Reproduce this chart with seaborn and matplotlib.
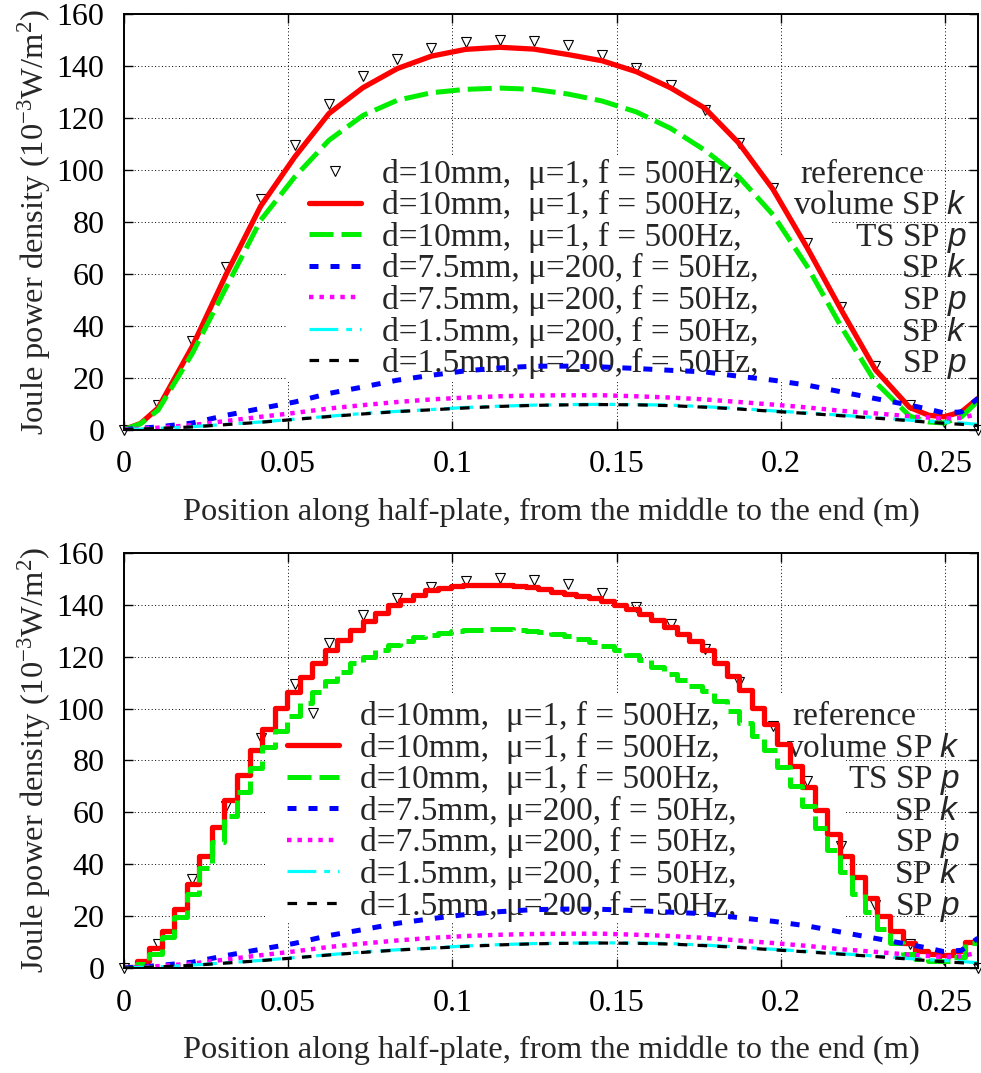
import matplotlib
matplotlib.use("Agg")
import matplotlib.pyplot as plt
from matplotlib.patches import Rectangle
import numpy as np
import seaborn as sns

sns.set_theme(style="ticks")
plt.rcParams["font.family"] = ["Liberation Serif", "DejaVu Serif"]
plt.rcParams["mathtext.fontset"] = "custom"
plt.rcParams["mathtext.rm"] = "Liberation Serif"
plt.rcParams["mathtext.it"] = "Liberation Sans:italic"
plt.rcParams["mathtext.bf"] = "Liberation Serif:bold"

# -------------------------------------------------
# data
# -------------------------------------------------

x_ref = [0, 0.0104, 0.0208, 0.0312, 0.0416, 0.052, 0.0624, 0.0728, 0.0832,
         0.0936, 0.104, 0.1144, 0.1248, 0.1352, 0.1456, 0.156, 0.1664, 0.1768,
         0.1872, 0.1976, 0.208, 0.2184, 0.2288, 0.2392, 0.2496, 0.26]
y_ref = [0, 9.4, 34.1, 62.6, 88.7, 109.4, 125.2, 136.1, 142.6, 147.0, 149.2,
         150.2, 149.7, 147.9, 144.4, 139.3, 132.6, 123.0, 110.2, 93.2, 71.9,
         47.2, 24.4, 9.4, 3.0, 0]

x_pos = [0, 0.005, 0.0104, 0.0208, 0.0312, 0.0416, 0.052, 0.0624, 0.0728,
         0.0832, 0.0936, 0.104, 0.1144, 0.1248, 0.1352, 0.1456, 0.156, 0.1664,
         0.1768, 0.1872, 0.1976, 0.208, 0.2184, 0.2288, 0.2392, 0.245, 0.2496,
         0.255, 0.26]

vol_k = [0, 2.3, 8.3, 32.0, 60.0, 86.0, 105.0, 121.7, 131.7, 139.0, 143.8,
         146.4, 147.2, 146.5, 144.4, 142.0, 137.8, 131.6, 123.8, 110.3, 92.5,
         70.0, 46.0, 23.0, 8.5, 5.5, 4.9, 6.8, 12.0]
ts_p = [0, 2.2, 7.5, 29.3, 55.0, 80.6, 97.3, 111.4, 121.0, 126.8, 129.7,
        131.0, 131.5, 131.0, 129.2, 126.5, 122.3, 116.0, 107.6, 97.3, 82.7,
        62.8, 39.5, 18.2, 5.2, 2.9, 2.5, 4.9, 11.0]
sp75_k = [0, 0.5, 1.0, 2.5, 5.5, 8.1, 10.6, 13.9, 16.4, 19.0, 20.9, 22.6,
          23.7, 24.4, 24.4, 24.1, 23.5, 22.8, 22.2, 20.5, 19.0, 17.1, 14.5,
          11.9, 9.4, 7.8, 6.4, 6.8, 12.0]
sp75_k_b = [0, 0.4, 0.9, 2.2, 4.8, 7.2, 9.5, 12.5, 14.8, 17.2, 19.0, 20.6,
            21.7, 22.5, 22.7, 22.6, 22.1, 21.5, 20.9, 19.4, 18.0, 16.2, 13.8,
            11.4, 9.0, 7.6, 6.3, 6.8, 11.5]
sp75_p = [0, 0.3, 0.7, 1.7, 3.3, 4.9, 6.4, 8.1, 9.4, 10.6, 11.6, 12.3, 12.8,
          13.1, 13.2, 13.2, 12.8, 12.3, 11.6, 10.6, 9.6, 8.5, 7.2, 6.2, 5.1,
          4.6, 4.2, 4.5, 6.0]
sp15_k = [0, 0.2, 0.4, 1.1, 2.0, 2.9, 4.0, 5.1, 6.2, 7.0, 7.7, 8.5, 9.0, 9.4,
          9.6, 9.7, 9.6, 9.4, 8.8, 8.1, 7.2, 6.4, 5.5, 4.6, 3.6, 3.2, 2.9,
          2.5, 2.0]
sp15_p = [0, 0.2, 0.4, 1.0, 1.9, 2.8, 3.9, 5.0, 6.0, 6.9, 7.6, 8.3, 8.9, 9.3,
          9.5, 9.6, 9.5, 9.2, 8.6, 7.9, 7.0, 6.2, 5.3, 4.4, 3.4, 2.8, 2.4,
          2.0, 1.5]

# second plot: element-wise constant values on 68 elements
n_elem = 68
vol_k_elem = [0.5, 2.6, 7.7, 14.4, 22.7, 32.4, 43.3, 54.3, 64.6, 74.2, 83.9,
              92.0, 100.1, 106.5, 112.3, 117.7, 122.6, 126.5, 130.4, 133.6,
              136.9, 140.0, 142.0, 143.9, 145.6, 146.5, 147.2, 147.6, 147.7,
              147.7, 147.6, 147.3, 146.8, 146.0, 145.1, 144.2, 143.4, 142.6,
              141.6, 140.0, 138.3, 136.3, 134.1, 131.6, 128.8, 126.0, 122.6,
              117.6, 112.6, 107.0, 100.4, 94.0, 86.4, 78.0, 69.7, 60.9, 51.6,
              43.3, 35.0, 26.9, 20.0, 14.2, 9.5, 6.6, 5.2, 4.9, 6.4, 10.0]
ts_p_elem = [0.3, 1.5, 5.5, 12.0, 19.5, 28.5, 38.5, 48.5, 58.5, 68.0, 77.0,
             85.0, 91.5, 97.0, 102.0, 106.5, 110.5, 114.0, 117.5, 120.0,
             122.5, 124.5, 126.0, 127.5, 128.5, 129.2, 129.8, 130.2, 130.4,
             130.5, 130.5, 130.3, 130.0, 129.4, 128.7, 127.8, 126.8, 125.6,
             124.2, 122.6, 120.8, 118.6, 116.2, 113.5, 111.0, 108.8, 106.8,
             102.9, 99.0, 94.5, 89.3, 84.0, 77.5, 70.0, 62.6, 54.0, 45.5,
             37.0, 28.5, 21.5, 15.0, 9.5, 5.5, 3.5, 2.6, 2.5, 4.3, 9.5]

labels = ["d=10mm,  \u03bc=1, f = 500Hz,",
          "d=10mm,  \u03bc=1, f = 500Hz,",
          "d=10mm,  \u03bc=1, f = 500Hz,",
          "d=7.5mm, \u03bc=200, f = 50Hz,",
          "d=7.5mm, \u03bc=200, f = 50Hz,",
          "d=1.5mm, \u03bc=200, f = 50Hz,",
          "d=1.5mm, \u03bc=200, f = 50Hz,"]
methods = ["reference", "volume SP $k$", "TS SP $p$", "SP $k$", "SP $p$",
           "SP $k$", "SP $p$"]

xticks = [0, 0.05, 0.1, 0.15, 0.2, 0.25]
xtick_labels = ["0", "0.05", "0.1", "0.15", "0.2", "0.25"]
yticks = [0, 20, 40, 60, 80, 100, 120, 140, 160]

styles = {
    "red": dict(color="#ff0000", lw=3.8, linestyle="-"),
    "green": dict(color="#00ee00", lw=3.6, linestyle=(0, (4.8, 1.6))),
    "blue": dict(color="#0000ff", lw=3.6, linestyle=(0, (1.8, 2.4))),
    "magenta": dict(color="#ff00ff", lw=3.2, linestyle=(0, (1.0, 1.35))),
    "cyan": dict(color="#00ffff", lw=2.3, linestyle=(0, (9.0, 2.5, 1.8, 2.5, 1.8, 2.5))),
    "black": dict(color="#000000", lw=2.3, linestyle=(0, (3.0, 3.2))),
}

FS_TICK = 23
FS_LEG = 24
FS_LAB = 23.4


def draw_panel(ax, stepped, leg_x, leg_y, right_x, box):
    ax.set_xlim(0, 0.26)
    ax.set_ylim(0, 160)
    ax.set_axisbelow(True)
    ax.grid(True, color="black", linestyle=(0, (1, 2.5)), linewidth=0.7)

    # opaque key area
    for (x0, y0, w, h) in box:
        ax.add_patch(Rectangle((x0, y0), w, h, transform=ax.transAxes,
                               facecolor="white", edgecolor="none", zorder=1))

    sns.lineplot(x=x_ref, y=y_ref, ax=ax, marker="v", linestyle="",
                 markersize=7.5, markerfacecolor="none", markeredgecolor="black",
                 markeredgewidth=0.8, label=labels[0], clip_on=False, zorder=3)
    sns.lineplot(x=x_ref, y=y_ref, ax=ax, marker=".", linestyle="",
                 markersize=1.5, color="black", label="_nolegend_",
                 clip_on=False, zorder=3)

    if stepped:
        edges = np.linspace(0, 0.26, n_elem + 1)
        sns.lineplot(x=edges, y=vol_k_elem + vol_k_elem[-1:], ax=ax,
                     drawstyle="steps-post", label=labels[1], zorder=4,
                     **styles["red"])
        sns.lineplot(x=edges, y=ts_p_elem + ts_p_elem[-1:], ax=ax,
                     drawstyle="steps-post", label=labels[2], zorder=4,
                     **styles["green"])
        blue = sp75_k_b
    else:
        sns.lineplot(x=x_pos, y=vol_k, ax=ax, label=labels[1], zorder=4,
                     **styles["red"])
        sns.lineplot(x=x_pos, y=ts_p, ax=ax, label=labels[2], zorder=4,
                     **styles["green"])
        blue = sp75_k

    sns.lineplot(x=x_pos, y=blue, ax=ax, label=labels[3], zorder=4, **styles["blue"])
    sns.lineplot(x=x_pos, y=sp75_p, ax=ax, label=labels[4], zorder=4, **styles["magenta"])
    sns.lineplot(x=x_pos, y=sp15_k, ax=ax, label=labels[5], zorder=4, **styles["cyan"])
    sns.lineplot(x=x_pos, y=sp15_p, ax=ax, label=labels[6], zorder=4, **styles["black"])

    for line in ax.get_lines():
        line.set_dash_capstyle("butt")

    leg = ax.legend(loc="upper left", bbox_to_anchor=(leg_x, leg_y),
                    frameon=False, fontsize=FS_LEG, handlelength=1.56,
                    handletextpad=0.63, labelspacing=0.015, borderpad=0,
                    borderaxespad=0, numpoints=1)
    leg.set_zorder(2)

    ax.set_xticks(xticks)
    ax.set_xticklabels(xtick_labels)
    ax.set_yticks(yticks)
    ax.tick_params(direction="in", length=6.5, width=1.0, top=True,
                   right=True, labelsize=FS_TICK, colors="black")
    ax.tick_params(axis="x", pad=15)
    ax.tick_params(axis="y", pad=14)
    for sp in ax.spines.values():
        sp.set_linewidth(1.4)
        sp.set_color("black")
        sp.set_zorder(5)

    ax.set_xlabel("Position along half-plate, from the middle to the end (m)",
                  fontsize=FS_LAB, labelpad=13)
    ax.set_ylabel("Joule power density (10$^{-3}$W/m$^{2}$)",
                  fontsize=FS_LAB, labelpad=2)

    # right column of the key, aligned on the key baselines
    fig.canvas.draw()
    inv = ax.transAxes.inverted()
    for i, t in enumerate(leg.get_texts()):
        px, py = t.get_transform().transform(t.get_position())
        yb = inv.transform((px, py))[1]
        if i == 0:
            ax.text(right_x[0], yb, methods[i], transform=ax.transAxes,
                    ha="left", va="baseline", fontsize=FS_LEG, zorder=2)
        else:
            ax.text(right_x[1], yb, methods[i], transform=ax.transAxes,
                    ha="right", va="baseline", fontsize=FS_LEG, zorder=2)


fig = plt.figure(figsize=(9.81, 10.73), dpi=100)
ax_top = fig.add_axes([0.1264, 0.5997, 0.8705, 0.3872])
ax_bot = fig.add_axes([0.1264, 0.0979, 0.8705, 0.3868])

draw_panel(ax_top, False, 0.2166, 0.652, (0.7916, 0.987),
           [(0.191, 0.114, 0.636, 0.543), (0.827, 0.60, 0.108, 0.057)])
draw_panel(ax_bot, True, 0.191, 0.643, (0.783, 0.979),
           [(0.167, 0.114, 0.679, 0.543), (0.846, 0.60, 0.08, 0.057)])

fig.savefig("out.png", dpi=100)
